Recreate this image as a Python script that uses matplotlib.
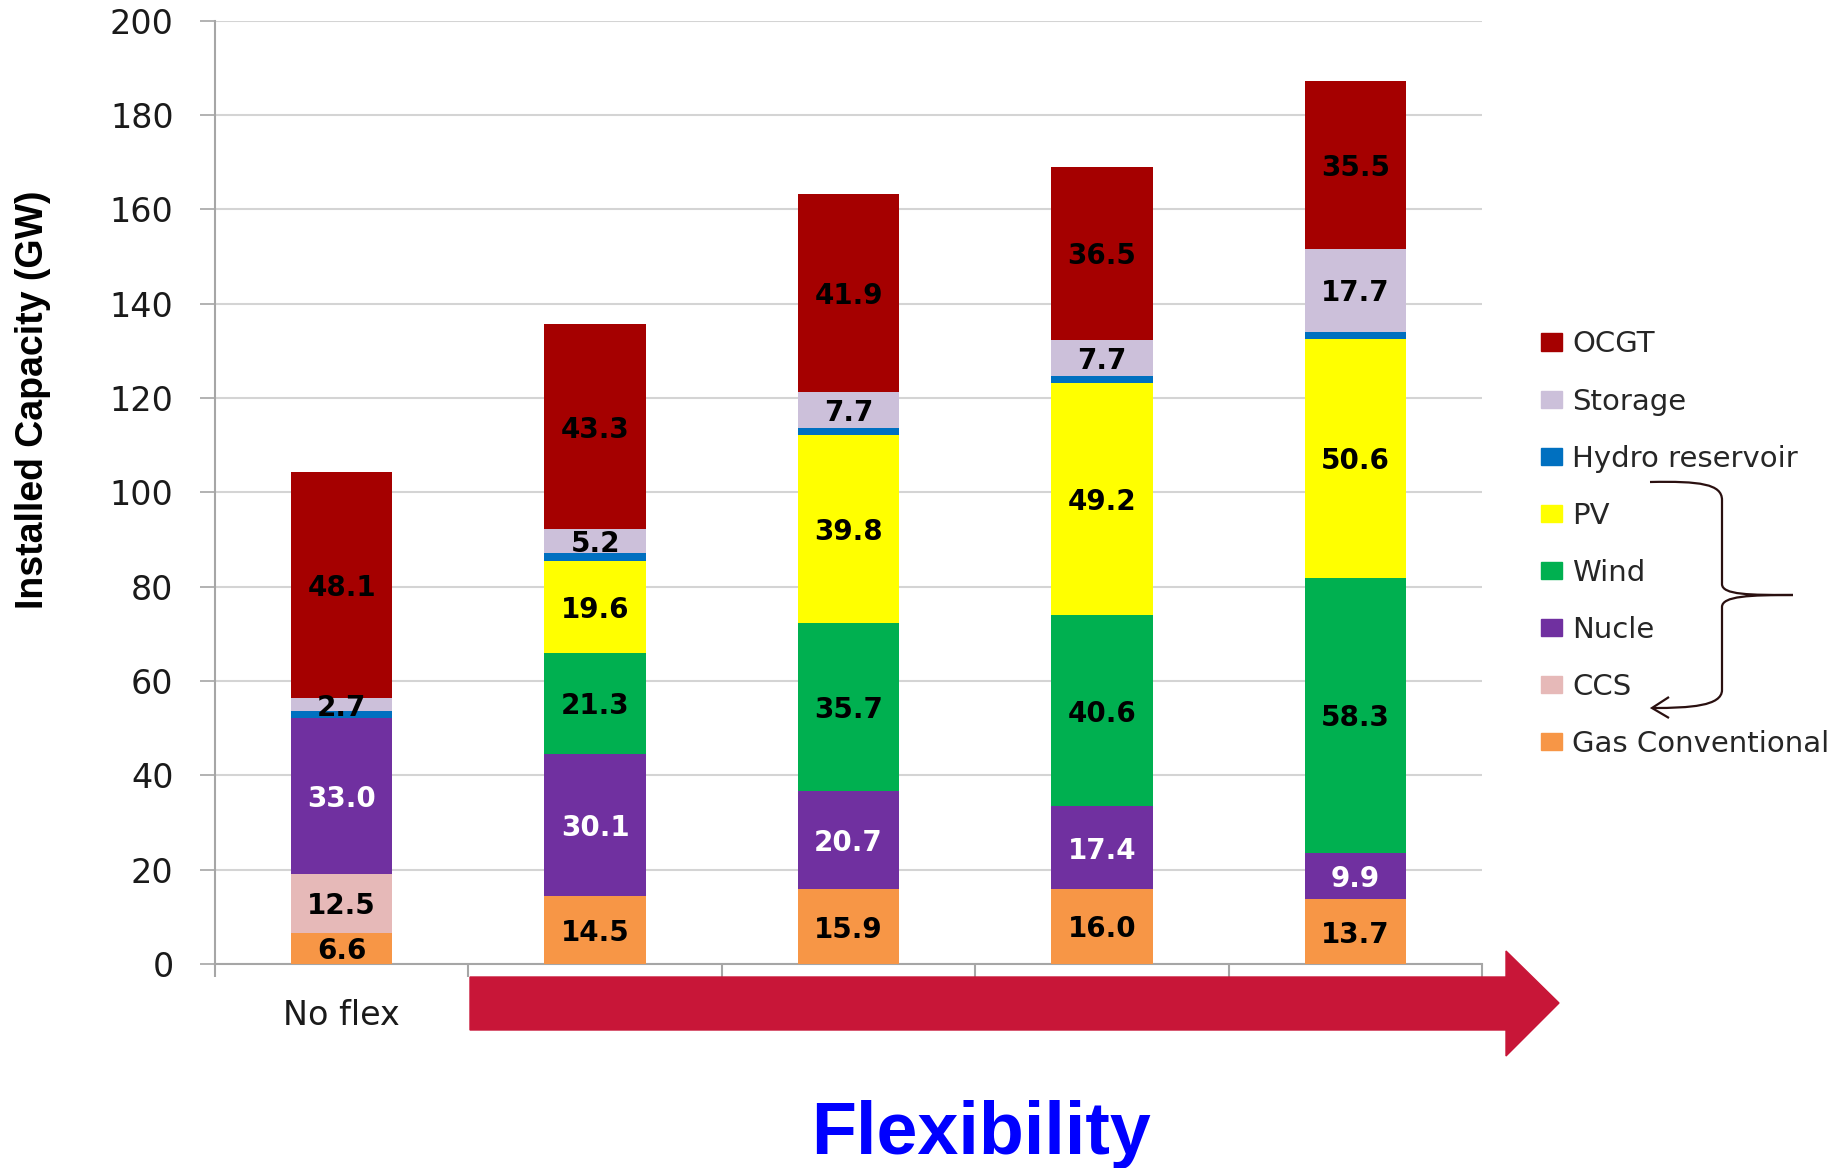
import matplotlib
matplotlib.use("Agg")
import matplotlib.pyplot as plt
from matplotlib.patches import Polygon, Rectangle, PathPatch
from matplotlib.path import Path

# scenarios (only the first one is labelled on the axis)
scenarios = ["No flex", "", "", "", ""]

# stacked from the bottom up
series = ["Gas Conventional", "CCS", "Nucle", "Wind", "PV", "Hydro reservoir", "Storage", "OCGT"]
gas = [6.6, 14.5, 15.9, 16.0, 13.7]
ccs = [12.5, 0, 0, 0, 0]
nuclear = [33.0, 30.1, 20.7, 17.4, 9.9]
wind = [0, 21.3, 35.7, 40.6, 58.3]
pv = [0, 19.6, 39.8, 49.2, 50.6]
hydro = [1.5, 1.6, 1.5, 1.5, 1.5]
storage = [2.7, 5.2, 7.7, 7.7, 17.7]
ocgt = [48.1, 43.3, 41.9, 36.5, 35.5]

colors = ["#F79646", "#E6B9B8", "#7030A0", "#00B050", "#FFFF00", "#0070C0", "#CCC0DA", "#A50000"]
label_colors = ["black", "black", "white", "black", "black", None, "black", "black"]

W, H = 1835, 1168


def fx(x):
    return x / W


def fy(y):
    return 1 - y / H


def main():
    fig = plt.figure(figsize=(W / 100, H / 100), dpi=100)
    ax = fig.add_axes([fx(215), fy(964), fx(1482) - fx(215), fy(20.7) - fy(964)])

    values = [gas, ccs, nuclear, wind, pv, hydro, storage, ocgt]
    x = list(range(len(scenarios)))
    bottom = [0.0] * len(x)
    for vals, col, lcol in zip(values, colors, label_colors):
        ax.bar(x, vals, 0.4, bottom=bottom, color=col, edgecolor="none", zorder=3)
        if lcol is not None:
            for i, v in enumerate(vals):
                if v > 0:
                    ax.text(i, bottom[i] + v / 2, "%.1f" % v, ha="center", va="center_baseline",
                            fontsize=20, fontweight="bold", color=lcol, zorder=4)
        bottom = [b + v for b, v in zip(bottom, vals)]

    ax.set_xlim(-0.5, len(x) - 0.5)
    ax.set_ylim(0, 200)
    ax.set_yticks(range(0, 201, 20))
    ax.yaxis.grid(True, color="#D4D4D4", lw=1.5)
    ax.set_axisbelow(True)

    ax.set_xticks([i - 0.5 for i in range(len(x) + 1)])
    ax.set_xticklabels([])
    ax.set_xticks(x, minor=True)
    ax.set_xticklabels(scenarios, minor=True)
    ax.tick_params(axis="x", which="minor", length=0, pad=25, labelsize=24, labelcolor="#1a1a1a")
    ax.tick_params(axis="x", which="major", length=9.4, width=1.5, color="#A6A6A6", direction="out")
    ax.tick_params(axis="y", length=10.8, width=1.2, color="#A6A6A6", pad=19, labelsize=24,
                   labelcolor="#1a1a1a")

    for s in ["top", "right"]:
        ax.spines[s].set_visible(False)
    for s in ["left", "bottom"]:
        ax.spines[s].set_color("#A6A6A6")
        ax.spines[s].set_linewidth(1.5)

    fig.text(fx(33), fy(400), "Installed Capacity (GW)", rotation=90, ha="center", va="center",
             fontsize=27, fontweight="bold", family="Liberation Sans", color="black")

    # legend, top entry is the last stacked series
    for k, (name, col) in enumerate(zip(series[::-1], colors[::-1])):
        yc = 342 + 57.1 * k
        fig.patches.append(Rectangle((fx(1541), fy(yc + 8.5)), fx(21), 17 / H, color=col,
                                     transform=fig.transFigure, figure=fig))
        fig.text(fx(1572), fy(yc + 10.4), name, fontsize=21, color="#262626", va="baseline")

    # curly brace with arrow back to CCS
    pts = [(1650, 482), (1700, 481), (1722, 484), (1722, 500),
           (1722, 584),
           (1722, 595), (1750, 595), (1793, 595),
           (1750, 595), (1722, 596), (1722, 607),
           (1722, 690),
           (1722, 706), (1690, 708), (1653, 708)]
    codes = [Path.MOVETO, Path.CURVE4, Path.CURVE4, Path.CURVE4,
             Path.LINETO,
             Path.CURVE4, Path.CURVE4, Path.CURVE4,
             Path.CURVE4, Path.CURVE4, Path.CURVE4,
             Path.LINETO,
             Path.CURVE4, Path.CURVE4, Path.CURVE4]
    brace = Path([(fx(a), fy(b)) for a, b in pts], codes)
    fig.patches.append(PathPatch(brace, fill=False, lw=1.6, edgecolor="#2A1010",
                                 transform=fig.transFigure, figure=fig))
    head = Path([(fx(1669), fy(697)), (fx(1652), fy(708)), (fx(1669), fy(718))],
                [Path.MOVETO, Path.LINETO, Path.LINETO])
    fig.patches.append(PathPatch(head, fill=False, lw=1.6, edgecolor="#2A1010",
                                 transform=fig.transFigure, figure=fig))

    # big red arrow under the flexible scenarios
    arrow = [(470, 977), (1506, 977), (1506, 951), (1559, 1003), (1506, 1056), (1506, 1030), (470, 1030)]
    fig.patches.append(Polygon([(fx(a), fy(b)) for a, b in arrow], closed=True, color="#C81638",
                               transform=fig.transFigure, figure=fig, zorder=5))

    fig.text(fx(981.5), fy(1154), "Flexibility", ha="center", va="baseline", fontsize=53,
             fontweight="bold", family="Liberation Sans", color="#0000FF")

    plt.savefig("out.png", dpi=100)


if __name__ == "__main__":
    main()
